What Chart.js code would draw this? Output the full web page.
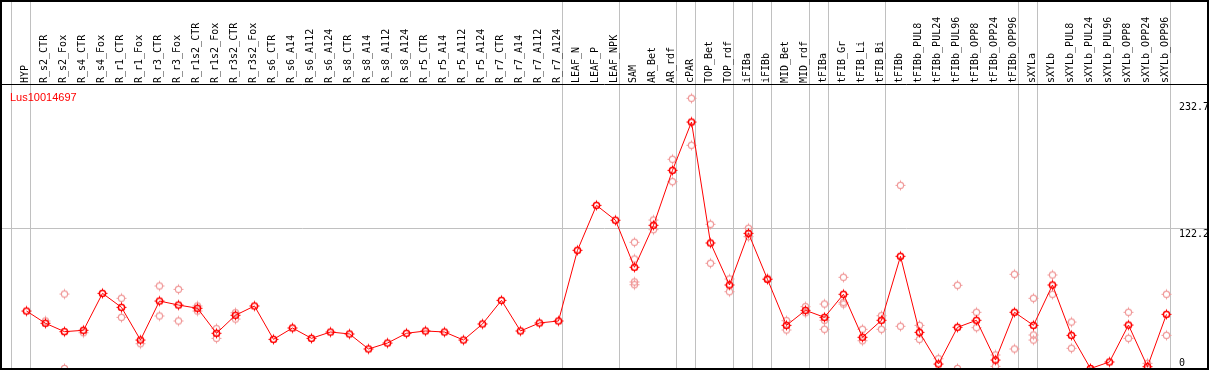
<!DOCTYPE html>
<html>
<head>
<meta charset="utf-8">
<script src="https://cdn.jsdelivr.net/npm/chart.js@4.4.1/dist/chart.umd.min.js"></script>
<style>
  body { margin: 0; background: #fff; }
  canvas { display: block; }
</style>
</head>
<body>
<canvas id="myChart" width="1209" height="370"></canvas>
<script>
// Categorias (muestras)
const categories = ['HYP','R_s2_CTR','R_s2_Fox','R_s4_CTR','R_s4_Fox','R_r1_CTR','R_r1_Fox','R_r3_CTR','R_r3_Fox','R_r1s2_CTR',
  'R_r1s2_Fox','R_r3s2_CTR','R_r3s2_Fox','R_s6_CTR','R_s6_A14','R_s6_A112','R_s6_A124','R_s8_CTR','R_s8_A14','R_s8_A112',
  'R_s8_A124','R_r5_CTR','R_r5_A14','R_r5_A112','R_r5_A124','R_r7_CTR','R_r7_A14','R_r7_A112','R_r7_A124','LEAF_N',
  'LEAF_P','LEAF_NPK','SAM','AR_Bet','AR_rdf','cPAR','TOP_Bet','TOP_rdf','iFIBa','iFIBb',
  'MID_Bet','MID_rdf','tFIBa','tFIB_Gr','tFIB_Li','tFIB_Bi','tFIBb','tFIBb_PUL8','tFIBb_PUL24','tFIBb_PUL96',
  'tFIBb_OPP8','tFIBb_OPP24','tFIBb_OPP96','sXYLa','sXYLb','sXYLb_PUL8','sXYLb_PUL24','sXYLb_PUL96','sXYLb_OPP8','sXYLb_OPP24',
  'sXYLb_OPP96'];

// Valor medio (serie principal)
const expr = [50.1,39.4,32.1,33.3,65.5,53.3,24.8,58.8,55.3,52.5,
  30.7,46.4,54.5,25.4,35.3,26.3,31.8,30.1,17.0,22.2,
  30.7,32.7,31.8,24.8,38.8,59.4,32.7,39.7,41.4,103.0,
  142.2,129.2,88.2,124.8,172.7,214.8,109.4,72.8,117.8,77.7,
  37.6,50.7,44.6,64.7,27.2,42.0,97.8,31.5,3.9,35.9,
  42.0,7.4,49.0,37.6,72.8,28.9,0,5.7,37.9,1.6,
  47.2];

// Replicas (puntos claros)
const rep1 = [null,41.4,64.9,31.2,null,61.2,21.6,71.9,69.0,54.5,
  34.7,48.6,null,null,null,null,null,null,null,null,
  null,null,null,null,null,null,null,null,null,null,
  null,null,110.0,129.4,182.3,235.5,125.7,78.0,122.2,78.6,
  41.7,53.9,56.2,79.5,34.2,46.0,159.6,37.6,8.5,72.5,
  49.0,11.8,82.1,61.2,81.5,40.5,null,null,49.0,4.5,
  64.7];
const rep2 = [null,null,0,null,null,44.6,null,45.8,41.4,50.1,
  26.3,43.1,null,null,null,null,null,null,null,null,
  null,null,null,null,null,null,null,null,null,null,
  null,null,95.4,121.0,162.8,194.5,91.7,66.9,114.9,null,
  33.6,48.6,42.0,57.7,24.2,34.2,36.8,25.4,null,0,
  35.6,1.9,17.0,29.2,64.7,17.6,null,null,26.3,null,
  28.9];
const rep3 = [null,null,null,null,null,null,null,null,null,null,
  null,null,null,null,null,null,null,null,null,null,
  null,null,null,null,null,null,null,null,null,null,
  null,null,75.4,null,null,null,null,null,null,null,
  null,null,34.2,56.2,null,null,null,null,null,null,
  null,null,null,24.8,null,null,null,null,null,null,
  null];
const rep4 = [null,null,null,null,null,null,null,null,null,null,
  null,null,null,null,null,null,null,null,null,null,
  null,null,null,null,null,null,null,null,null,null,
  null,null,73.0,null,null,null,null,null,null,null,
  null,null,null,null,null,null,null,null,null,null,
  null,null,null,null,null,null,null,null,null,null,
  null];

// Etiquetas del eje de la derecha y linea de referencia
const yTickLabels = [232.7, 122.2, 0];
const yGridValue = 122.2;
// Lineas grises: despues de estas categorias
const groupBreaks = [-1, 0, 28, 31, 34, 35, 37, 38, 39, 41, 42, 45, 52, 53, 60];
const geneName = 'Lus10014697';

// Marcador: circulo con pequenas marcas
function makeMarker(color, lw) {
  const c = document.createElement('canvas');
  c.width = 13; c.height = 13;
  const g = c.getContext('2d');
  g.strokeStyle = color;
  g.fillStyle = color;
  g.lineWidth = lw;
  g.beginPath();
  g.arc(6.5, 6.5, 3.1, 0, Math.PI * 2);
  g.stroke();
  g.fillRect(6, 1.5, 1, 1.5);
  g.fillRect(6, 10, 1, 1.5);
  g.fillRect(1.5, 6, 1.5, 1);
  g.fillRect(10, 6, 1.5, 1);
  return c;
}
const mainMarker = makeMarker('#ff0000', 1.5);
const repMarker = makeMarker('#f09a9a', 1.2);

const mainPoints = expr.map((v, i) => ({ x: i, y: v }));
const repPoints = [];
[rep1, rep2, rep3, rep4].forEach(arr => {
  arr.forEach((v, i) => { if (v !== null) repPoints.push({ x: i, y: v }); });
});

const MONO = '10px "DejaVu Sans Mono"';

// Plugin para textos, marco y linea de cabecera
const decorPlugin = {
  id: 'decorPlugin',
  afterDraw: (chart) => {
    const ctx = chart.ctx;
    const xs = chart.scales.x;
    const ys = chart.scales.y;
    ctx.save();
    // etiquetas verticales
    ctx.fillStyle = '#000';
    ctx.font = MONO;
    ctx.textAlign = 'left';
    ctx.textBaseline = 'alphabetic';
    categories.forEach((lab, i) => {
      const px = xs.getPixelForValue(i);
      ctx.save();
      ctx.translate(px + 2, 83);
      ctx.rotate(-Math.PI / 2);
      ctx.fillText(lab, 0, 0);
      ctx.restore();
    });
    // linea bajo las etiquetas
    ctx.strokeStyle = '#000';
    ctx.lineWidth = 1;
    ctx.beginPath();
    ctx.moveTo(0, 84.5);
    ctx.lineTo(1209, 84.5);
    ctx.stroke();
    // valores del eje derecho
    yTickLabels.forEach(v => {
      const py = Math.min(ys.getPixelForValue(v) + 8.5, 366);
      ctx.fillText(String(v), 1179, py);
    });
    // nombre del gen
    ctx.fillStyle = '#ff0000';
    ctx.font = '11px "Liberation Sans"';
    ctx.fillText(geneName, 10, 101);
    // marco
    ctx.strokeStyle = '#000';
    ctx.lineWidth = 2;
    ctx.strokeRect(1, 1, 1207, 368);
    ctx.restore();
  }
};

const ctx = document.getElementById('myChart').getContext('2d');
new Chart(ctx, {
  type: 'line',
  data: {
    datasets: [
      {
        label: geneName,
        data: mainPoints,
        borderColor: '#ff0000',
        borderWidth: 1,
        pointStyle: mainMarker,
        pointRadius: 4,
        tension: 0,
        fill: false,
        order: 0
      },
      {
        label: 'replicas',
        data: repPoints,
        showLine: false,
        pointStyle: repMarker,
        pointRadius: 4,
        order: 1
      }
    ]
  },
  options: {
    responsive: false,
    animation: false,
    devicePixelRatio: 1,
    layout: { padding: 0, autoPadding: false },
    plugins: { legend: { display: false }, tooltip: { enabled: false } },
    scales: {
      x: {
        type: 'linear',
        min: -1.3947,
        max: 62.237,
        ticks: { display: false },
        border: { display: false },
        grid: { color: '#c0c0c0', lineWidth: 1, drawTicks: false },
        afterBuildTicks: (scale) => {
          scale.ticks = groupBreaks.map(b => ({ value: b + 0.21 }));
        }
      },
      y: {
        type: 'linear',
        min: -1.307,
        max: 321.13,
        ticks: { display: false },
        border: { display: false },
        grid: { color: '#c0c0c0', lineWidth: 1, drawTicks: false },
        afterBuildTicks: (scale) => {
          scale.ticks = [{ value: yGridValue }];
        }
      }
    }
  },
  plugins: [decorPlugin]
});
</script>
</body>
</html>
